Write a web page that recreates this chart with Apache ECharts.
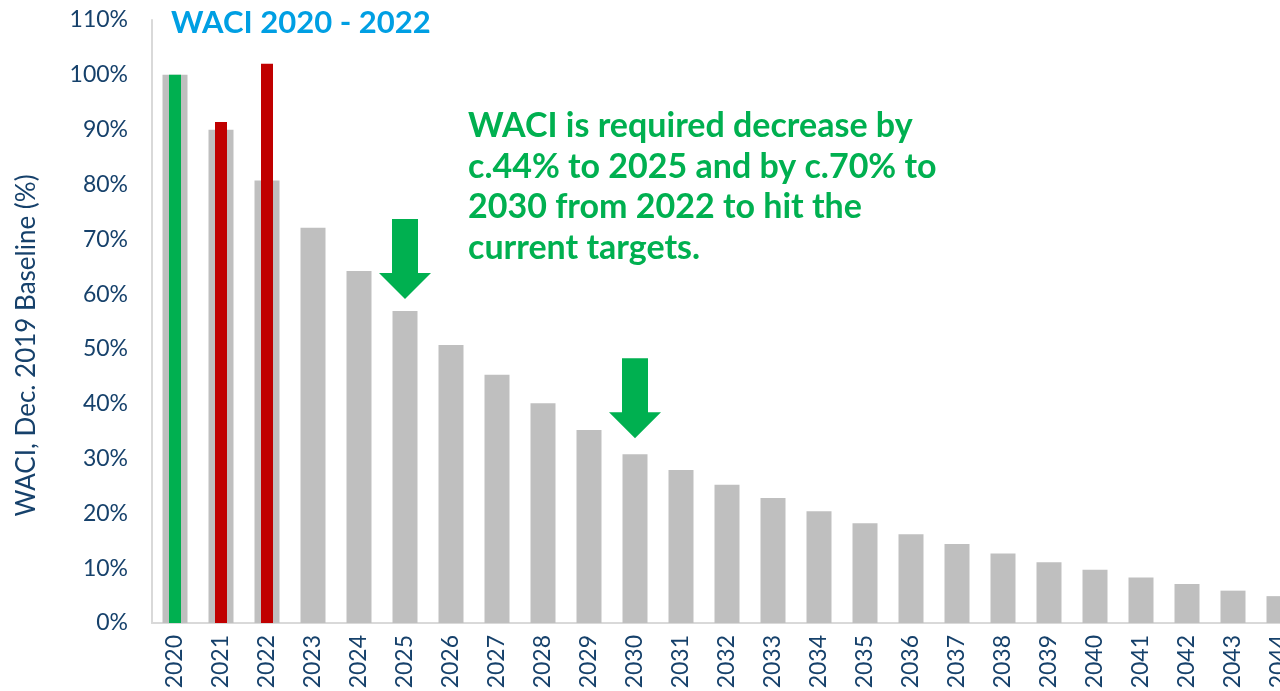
<!DOCTYPE html>
<html>
<head>
<meta charset="utf-8">
<script src="https://cdn.jsdelivr.net/npm/echarts@6/dist/echarts.min.js"></script>
<style>
  html, body { margin: 0; padding: 0; background: #fff; }
  #main { width: 1280px; height: 691px; }
</style>
</head>
<body>
<div id="main"></div>
<script>
// years on the x axis
var years = ['2020','2021','2022','2023','2024','2025','2026','2027','2028','2029','2030','2031',
  '2032','2033','2034','2035','2036','2037','2038','2039','2040','2041','2042','2043','2044'];
// target path (grey bars), % of Dec. 2019 baseline
var targetPath = [100, 90.0, 80.7, 72.1, 64.2, 56.9, 50.7, 45.3, 40.1, 35.2, 30.8, 27.9,
  25.2, 22.8, 20.4, 18.2, 16.2, 14.4, 12.7, 11.1, 9.7, 8.3, 7.1, 5.9, 4.9];
// actual WACI 2020 - 2022
var actualWaci = [100, 91.4, 102.0];
var actualColors = ['#00b050', '#c00000', '#c00000'];
// arrows pointing at these years
var arrowYears = ['2025', '2030'];
var arrowTips = [59.1, 33.7];

var yTicks = { min: 0, max: 110, interval: 10 };

var navy = '#16416b';
var fontName = 'Lato';

var chart = echarts.init(document.getElementById('main'));

var actualData = years.map(function (y, i) {
  if (i < actualWaci.length) {
    return { value: actualWaci[i], itemStyle: { color: actualColors[i] } };
  }
  return null;
});

// green arrow shape, tip at the bottom
var arrowPath = 'path://M13,0 L39,0 L39,54 L52,54 L26,80 L0,54 L13,54 Z';

var option = {
  animation: false,
  textStyle: { fontFamily: fontName },
  title: {
    text: 'WACI 2020 - 2022',
    left: 166,
    top: 2,
    textStyle: { color: '#009fe3', fontSize: 31, fontWeight: 'bold', fontFamily: fontName }
  },
  grid: { left: 152, right: -22, top: 20, bottom: 68, containLabel: false, outerBoundsMode: 'none' },
  xAxis: [
    {
      type: 'category',
      data: years,
      axisLine: { lineStyle: { color: '#d9d9d9', width: 2 } },
      axisTick: { show: false },
      axisLabel: { rotate: 90, color: navy, fontSize: 23, margin: 12, interval: 0, fontFamily: fontName }
    },
    {
      type: 'category',
      data: years,
      show: false
    }
  ],
  yAxis: {
    type: 'value',
    min: yTicks.min,
    max: yTicks.max,
    interval: yTicks.interval,
    name: 'WACI, Dec. 2019 Baseline (%)',
    nameLocation: 'middle',
    nameGap: 112,
    nameTextStyle: { color: navy, fontSize: 26, fontFamily: fontName, padding: [0, 48, 0, 0] },
    axisLine: { show: true, lineStyle: { color: '#d9d9d9', width: 2 } },
    axisTick: { show: false },
    splitLine: { show: false },
    axisLabel: { formatter: '{value}%', color: navy, fontSize: 23, margin: 24, fontFamily: fontName }
  },
  graphic: [
    {
      type: 'text',
      left: 468,
      top: 106,
      style: {
        text: 'WACI is required decrease by\nc.44% to 2025 and by c.70% to\n2030 from 2022 to hit the\ncurrent targets.',
        fill: '#00b050',
        font: 'bold 34px ' + fontName,
        lineHeight: 40.5
      }
    }
  ],
  series: [
    {
      name: 'Target',
      type: 'bar',
      xAxisIndex: 0,
      barWidth: 25,
      itemStyle: { color: '#bfbfbf' },
      data: targetPath,
      markPoint: {
        symbol: arrowPath,
        symbolSize: [52, 80],
        symbolOffset: [0, '-50%'],
        itemStyle: { color: '#00b050' },
        label: { show: false },
        data: arrowYears.map(function (y, i) {
          return { coord: [y, arrowTips[i]] };
        })
      }
    },
    {
      name: 'Actual',
      type: 'bar',
      xAxisIndex: 1,
      barWidth: 12,
      data: actualData
    }
  ]
};

chart.setOption(option);
</script>
</body>
</html>
